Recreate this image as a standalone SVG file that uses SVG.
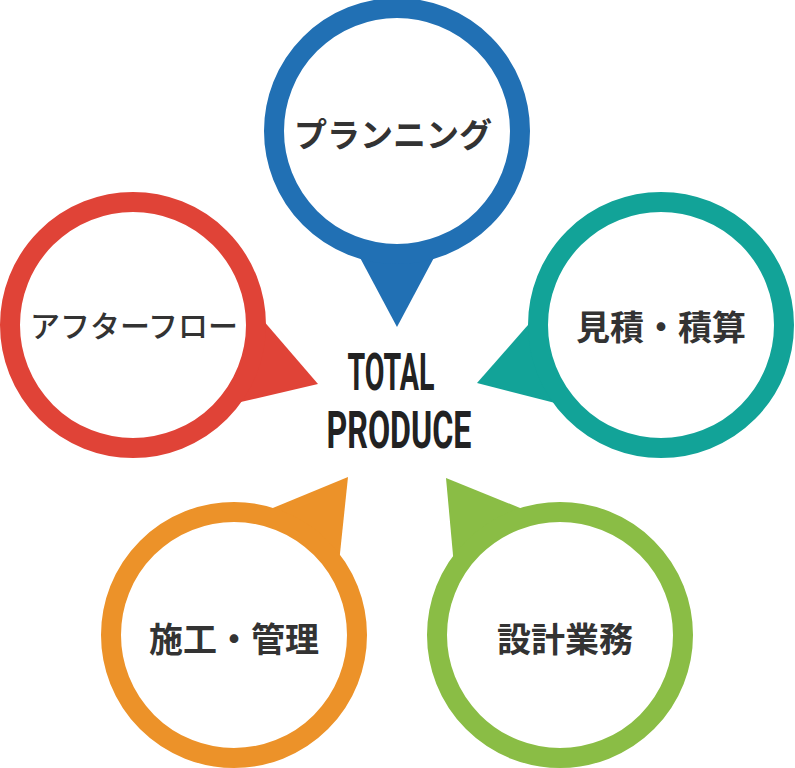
<svg xmlns="http://www.w3.org/2000/svg" width="795" height="768" viewBox="0 0 795 768">
<style>
.ring{fill:#ffffff;stroke-width:20}
.lbl{font-family:"Noto Sans CJK JP","Noto Sans",sans-serif;font-weight:700;fill:#333333;text-anchor:middle}
.tp{font-family:Roboto,"Liberation Sans",sans-serif;font-weight:700;fill:#222222;text-anchor:middle;font-size:51px}
</style>
<rect width="795" height="768" fill="#ffffff"/>
<g id="connectors">
<polygon points="357,252 437,252 397,327" fill="#2170b4"/>
<polygon points="262,319 318,384 232,404" fill="#e04337"/>
<polygon points="535,317 477,383 563,405" fill="#12a398"/>
<polygon points="268,510 348,477 339,563" fill="#ec9229"/>
<polygon points="525,510 446,478 454,566" fill="#8abd45"/>
</g>
<g id="planning">
<circle class="ring" cx="397" cy="131" r="123" stroke="#2170b4"/>
<text class="lbl" x="393" y="147" font-size="33">プランニング</text>
</g>
<g id="afterflow">
<circle class="ring" cx="133" cy="325" r="123" stroke="#e04337"/>
<text class="lbl" x="134" y="337" font-size="30" style="font-weight:500">アフターフロー</text>
</g>
<g id="estimate">
<circle class="ring" cx="661" cy="325" r="123" stroke="#12a398"/>
<text class="lbl" x="661" y="340" font-size="34">見積・積算</text>
</g>
<g id="construction">
<circle class="ring" cx="234" cy="635" r="123" stroke="#ec9229"/>
<text class="lbl" x="234" y="652" font-size="34">施工・管理</text>
</g>
<g id="design">
<circle class="ring" cx="560" cy="635" r="123" stroke="#8abd45"/>
<text class="lbl" x="565" y="652" font-size="34">設計業務</text>
</g>
<g id="center">
<text class="tp" x="391" y="390" textLength="87" lengthAdjust="spacingAndGlyphs">TOTAL</text>
<text class="tp" x="399" y="448" textLength="145" lengthAdjust="spacingAndGlyphs">PRODUCE</text>
</g>
</svg>
